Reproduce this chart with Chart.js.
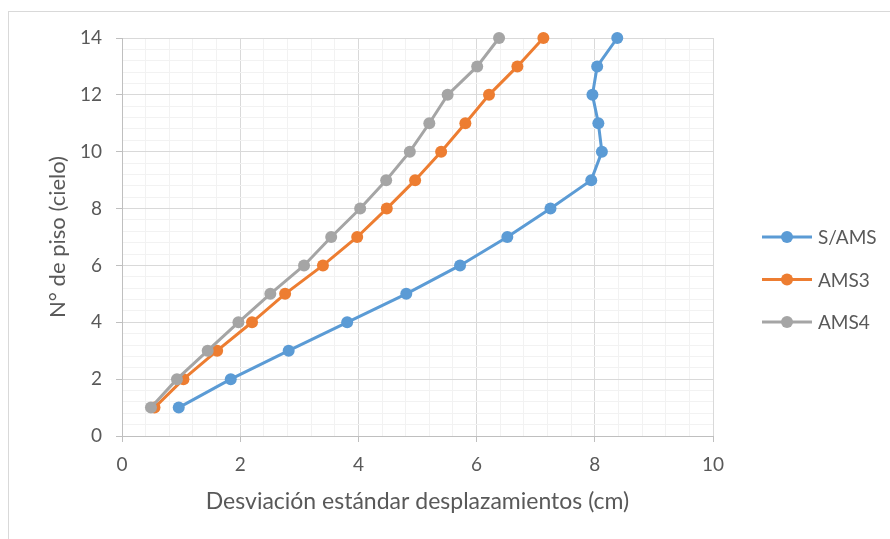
<!DOCTYPE html>
<html lang="es">
<head>
    <meta charset="UTF-8">
    <title>Desviación estándar desplazamientos</title>
    <style>
        body {
            margin: 0;
            padding: 0;
            background-color: white;
            overflow: hidden;
        }
        .wrap {
            position: relative;
            width: 890px;
            height: 539px;
            overflow: hidden;
        }
        .frame {
            position: absolute;
            left: 8px;
            top: 11px;
            width: 940px;
            height: 600px;
            border: 1px solid #d9d9d9;
        }
        canvas {
            position: absolute;
            left: 0;
            top: 0;
        }
    </style>
</head>
<body>
    <div class="wrap">
        <div class="frame"></div>
        <canvas id="pisoChart" width="890" height="539"></canvas>
    </div>

    <script src="https://cdn.jsdelivr.net/npm/chart.js"></script>
    <script>
        // Floor numbers (y) and standard deviation of displacements in cm (x)
        const pisos = [1, 2, 3, 4, 5, 6, 7, 8, 9, 10, 11, 12, 13, 14];
        const sAms = [0.96, 1.84, 2.82, 3.81, 4.81, 5.72, 6.52, 7.25, 7.94, 8.12, 8.06, 7.96, 8.04, 8.38];
        const ams3 = [0.55, 1.04, 1.61, 2.20, 2.76, 3.40, 3.98, 4.48, 4.96, 5.40, 5.81, 6.21, 6.69, 7.13];
        const ams4 = [0.49, 0.93, 1.45, 1.97, 2.51, 3.08, 3.54, 4.03, 4.47, 4.87, 5.20, 5.51, 6.01, 6.38];

        const seriesNames = ['S/AMS', 'AMS3', 'AMS4'];
        const seriesColors = ['#5B9BD5', '#ED7D31', '#A5A5A5'];

        const FONT = 'Lato, "Open Sans", sans-serif';
        const TEXT = '#595959';

        function toPoints(xs) {
            return xs.map((x, i) => ({ x: x, y: pisos[i] }));
        }

        function isMajor(v) {
            return Math.abs(v / 2 - Math.round(v / 2)) < 1e-6;
        }

        // Excel style legend: line with marker, on the right
        const sideLegend = {
            id: 'sideLegend',
            afterDraw(chart) {
                const ctx = chart.ctx;
                const rows = [237, 279.5, 322];
                chart.data.datasets.forEach((ds, i) => {
                    const y = rows[i];
                    ctx.save();
                    ctx.strokeStyle = ds.borderColor;
                    ctx.lineWidth = 3;
                    ctx.beginPath();
                    ctx.moveTo(762, y);
                    ctx.lineTo(812, y);
                    ctx.stroke();
                    ctx.fillStyle = ds.backgroundColor;
                    ctx.beginPath();
                    ctx.arc(787, y, 6, 0, Math.PI * 2);
                    ctx.fill();
                    ctx.fillStyle = TEXT;
                    ctx.font = '19px ' + FONT;
                    ctx.textBaseline = 'middle';
                    ctx.textAlign = 'left';
                    ctx.fillText(ds.label, 818, y + 1);
                    ctx.restore();
                });
            }
        };

        const datasets = [sAms, ams3, ams4].map((vals, i) => ({
            label: seriesNames[i],
            data: toPoints(vals),
            borderColor: seriesColors[i],
            backgroundColor: seriesColors[i],
            pointBackgroundColor: seriesColors[i],
            pointBorderColor: seriesColors[i],
            pointRadius: 6,
            pointBorderWidth: 0,
            borderWidth: 3,
            showLine: true,
            tension: 0,
            clip: false,
            order: 3 - i
        }));

        function gridColor(ctx) {
            return isMajor(ctx.tick.value) ? '#d9d9d9' : '#f2f2f2';
        }
        function tickColor(ctx) {
            return isMajor(ctx.tick.value) ? '#bfbfbf' : 'rgba(0,0,0,0)';
        }

        new Chart(document.getElementById('pisoChart'), {
            type: 'scatter',
            data: { datasets: datasets },
            plugins: [sideLegend],
            options: {
                responsive: false,
                animation: false,
                layout: {
                    padding: { left: 0, right: 177, top: 38, bottom: 0 }
                },
                plugins: {
                    legend: { display: false },
                    tooltip: { enabled: false }
                },
                scales: {
                    x: {
                        type: 'linear',
                        min: 0,
                        max: 10,
                        afterFit: (scale) => { scale.height = 103; },
                        border: { color: '#bfbfbf', width: 1 },
                        grid: {
                            color: gridColor,
                            tickColor: tickColor,
                            tickLength: 6,
                            lineWidth: 1
                        },
                        ticks: {
                            stepSize: 0.4,
                            autoSkip: false,
                            maxRotation: 0,
                            padding: 11,
                            color: TEXT,
                            font: { family: FONT, size: 19 },
                            callback: (v) => isMajor(v) ? String(Math.round(v)) : ''
                        },
                        title: {
                            display: true,
                            text: 'Desviación estándar desplazamientos (cm)',
                            color: TEXT,
                            font: { family: FONT, size: 23 },
                            padding: { top: 0, bottom: 24 }
                        }
                    },
                    y: {
                        type: 'linear',
                        min: 0,
                        max: 14,
                        afterFit: (scale) => { scale.width = 122; },
                        border: { color: '#bfbfbf', width: 1 },
                        grid: {
                            color: gridColor,
                            tickColor: tickColor,
                            tickLength: 6,
                            lineWidth: 1
                        },
                        ticks: {
                            stepSize: 0.4,
                            autoSkip: false,
                            padding: 14,
                            color: TEXT,
                            font: { family: FONT, size: 19 },
                            callback: (v) => isMajor(v) ? String(Math.round(v)) : ''
                        },
                        title: {
                            display: true,
                            text: 'N° de piso (cielo)',
                            color: TEXT,
                            font: { family: FONT, size: 22 },
                            padding: { top: 45, bottom: 0 }
                        }
                    }
                }
            }
        });
    </script>
</body>
</html>
